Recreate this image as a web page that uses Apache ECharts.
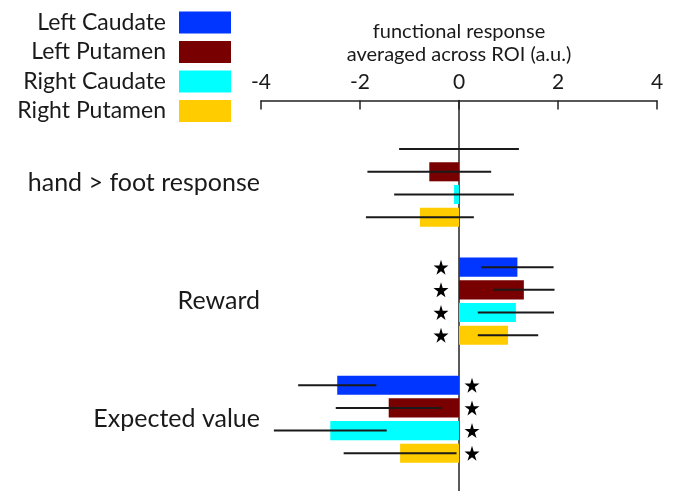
<!DOCTYPE html>
<html>
<head>
<meta charset="utf-8">
<script src="https://cdn.jsdelivr.net/npm/echarts@6/dist/echarts.min.js"></script>
<style>
html,body{margin:0;padding:0;background:#fff;}
#chart{width:673px;height:491px;}
</style>
</head>
<body>
<div id="chart"></div>
<script>
// ---- data ----
const regions = ['Left Caudate', 'Left Putamen', 'Right Caudate', 'Right Putamen'];
const regionColors = ['#0036ff', '#780000', '#00ffff', '#ffcc00'];
const groups = ['hand > foot response', 'Reward', 'Expected value'];
// means per group, in region order
const handFootMean = [0.0, -0.6, -0.1, -0.79];
const handFootErr  = [1.21, 1.25, 1.21, 1.09];
const rewardMean   = [1.18, 1.31, 1.15, 0.99];
const rewardErr    = [0.73, 0.62, 0.77, 0.61];
const evMean       = [-2.46, -1.42, -2.6, -1.19];
const evErr        = [0.79, 1.07, 1.14, 1.14];
// significance markers (1 = star)
const handFootSig = [0, 0, 0, 0];
const rewardSig   = [1, 1, 1, 1];
const evSig       = [1, 1, 1, 1];
const xTicks = [-4, -2, 0, 2, 4];

// ---- layout helpers (row positions on the hidden y scale) ----
const means = [handFootMean, rewardMean, evMean];
const errs = [handFootErr, rewardErr, evErr];
const sigs = [handFootSig, rewardSig, evSig];
const firstRow = 2.14, groupStep = 5.2;
const rowPos = (g, r) => firstRow + g * groupStep + r;

const FONT = 'Lato, "Open Sans", sans-serif';

const barSeries = regions.map((name, r) => ({
  name: name,
  type: 'custom',
  color: regionColors[r],
  encode: { x: 0, y: 2 },
  data: groups.map((_, g) => [means[g][r], errs[g][r], rowPos(g, r)]),
  renderItem: function (params, api) {
    const v = api.value(0), e = api.value(1), y = api.value(2);
    const p0 = api.coord([0, y]);
    const p1 = api.coord([v, y]);
    const h = api.size([0, 1])[1] * 0.84;
    const lo = api.coord([v - e, y]);
    const hi = api.coord([v + e, y]);
    return {
      type: 'group',
      children: [
        { type: 'rect',
          shape: { x: Math.min(p0[0], p1[0]), y: p0[1] - h / 2, width: Math.abs(p1[0] - p0[0]), height: h },
          style: { fill: api.visual('color') } },
        { type: 'line',
          shape: { x1: lo[0], y1: lo[1], x2: hi[0], y2: hi[1] },
          style: { stroke: '#1a1a1a', lineWidth: 2 } }
      ]
    };
  },
  z: 2
}));

const starData = [];
groups.forEach((_, g) => {
  regions.forEach((__, r) => {
    if (sigs[g][r]) {
      starData.push({ value: [0, rowPos(g, r)], symbolOffset: [means[g][r] >= 0 ? -18 : 13, 0] });
    }
  });
});

const labelData = groups.map((name, g) => ({ name: name, value: [xTicks[0], rowPos(g, 1.5)] }));

const chart = echarts.init(document.getElementById('chart'), null, { renderer: 'canvas' });
chart.setOption({
  animation: false,
  backgroundColor: '#fff',
  textStyle: { fontFamily: FONT },
  legend: {
    data: regions,
    orient: 'vertical',
    align: 'right',
    right: 442,
    top: 11,
    padding: 0,
    itemWidth: 52,
    itemHeight: 22,
    itemGap: 6.5,
    icon: 'rect',
    selectedMode: false,
    textStyle: { fontFamily: FONT, fontSize: 23, color: '#1a1a1a', lineHeight: 22, padding: [0, 8, 0, 0] }
  },
  grid: { left: 261, right: 16, top: 100.5, bottom: 0, containLabel: false },
  xAxis: {
    type: 'value',
    position: 'top',
    min: xTicks[0],
    max: xTicks[xTicks.length - 1],
    interval: 2,
    name: 'functional response\naveraged across ROI (a.u.)',
    nameLocation: 'middle',
    nameGap: 34,
    nameTextStyle: { fontFamily: FONT, fontSize: 20, color: '#1a1a1a', lineHeight: 23 },
    axisLine: { show: true, lineStyle: { color: '#222', width: 1.5 } },
    axisTick: { show: true, inside: true, length: 9, lineStyle: { color: '#222', width: 1.5 } },
    axisLabel: { fontFamily: FONT, fontSize: 21, color: '#1a1a1a', margin: 8 },
    splitLine: { show: false }
  },
  yAxis: {
    type: 'value',
    inverse: true,
    min: 0,
    max: 17.2,
    axisLine: { show: true, onZero: true, lineStyle: { color: '#222', width: 1.5 } },
    axisTick: { show: false },
    axisLabel: { show: false },
    splitLine: { show: false }
  },
  series: barSeries.concat([
    {
      name: 'significance',
      type: 'scatter',
      symbol: 'path://M50,0 L61,35 L98,35 L68,57 L79,91 L50,70 L21,91 L32,57 L2,35 L39,35 Z',
      symbolSize: 15,
      itemStyle: { color: '#000', opacity: 1 },
      data: starData,
      z: 3
    },
    {
      name: 'groups',
      type: 'custom',
      encode: { x: 0, y: 1 },
      data: labelData,
      renderItem: function (params, api) {
        const p = api.coord([api.value(0), api.value(1)]);
        return {
          type: 'text',
          x: p[0] - 1,
          y: p[1],
          style: {
            text: groups[params.dataIndex],
            fontFamily: FONT,
            fontSize: 25,
            fill: '#1a1a1a',
            align: 'right',
            verticalAlign: 'middle'
          }
        };
      }
    }
  ])
});
</script>
</body>
</html>
